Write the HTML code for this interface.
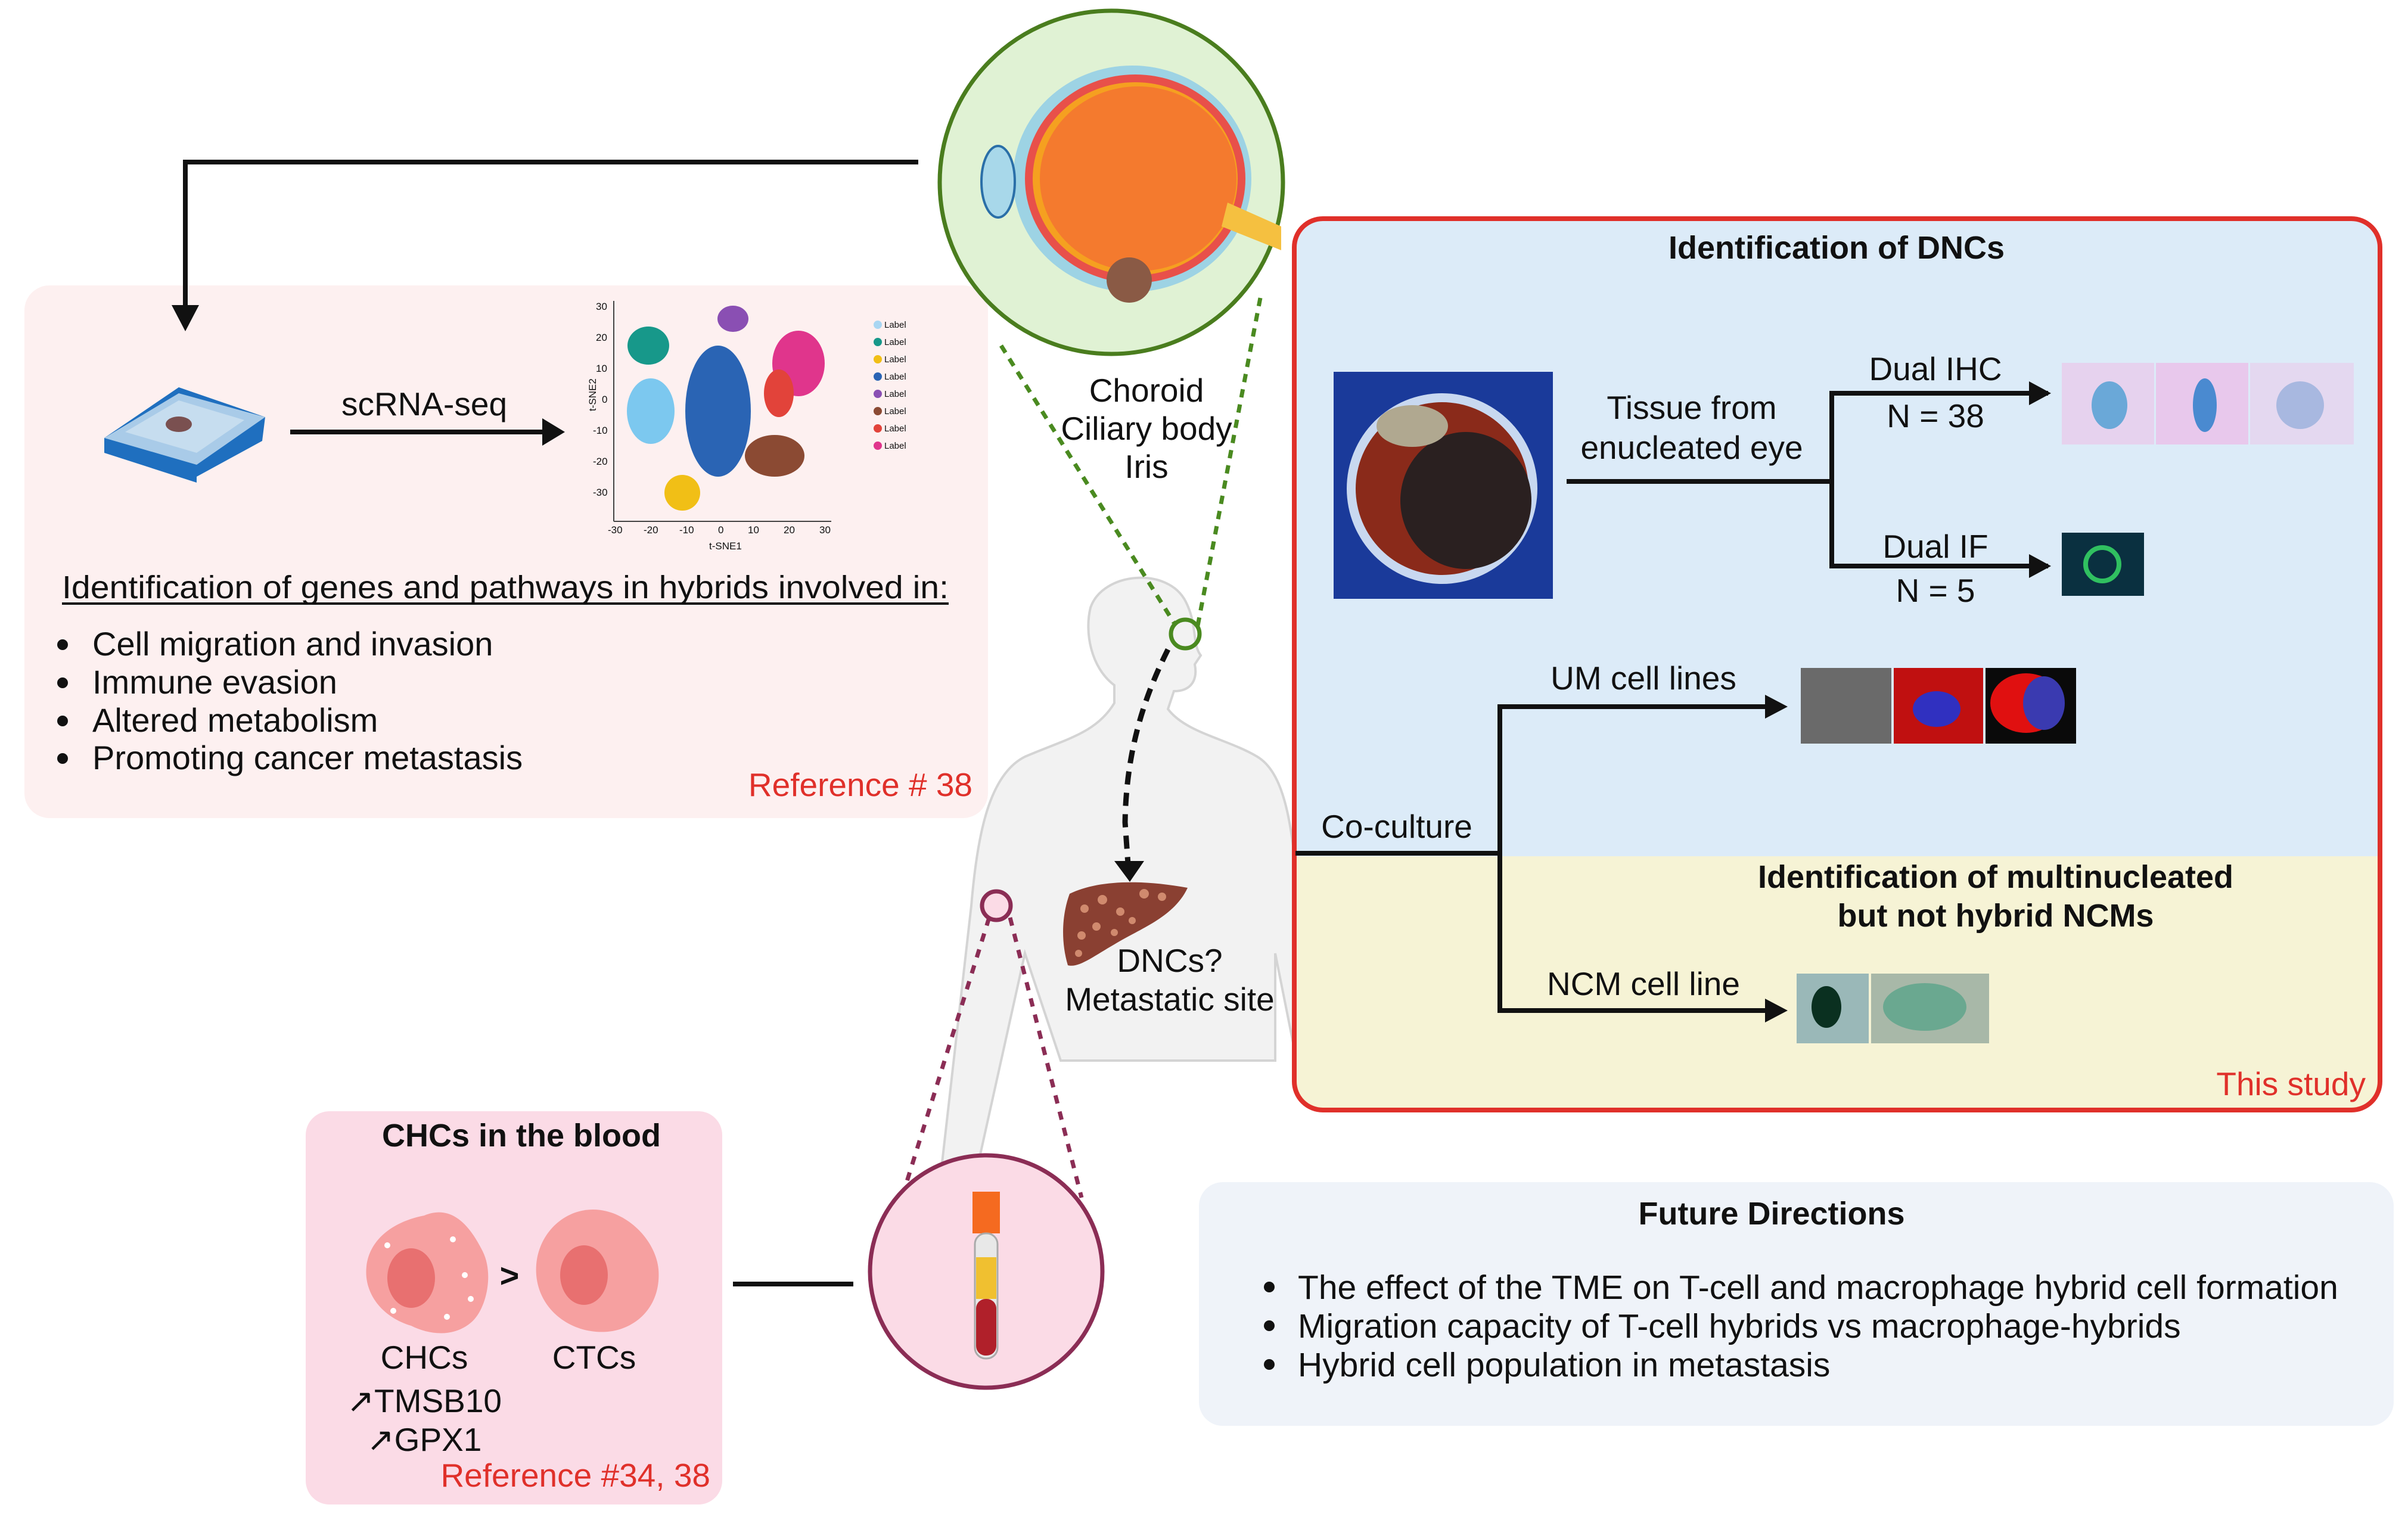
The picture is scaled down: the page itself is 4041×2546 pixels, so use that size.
<!DOCTYPE html>
<html><head><meta charset="utf-8"><style>
html,body{margin:0;padding:0;background:#fff}
svg{display:block}
text{font-family:"Liberation Sans",sans-serif;fill:#111}
</style></head><body>
<svg width="4041" height="2546" viewBox="0 0 4041 2546" xmlns="http://www.w3.org/2000/svg">

<!-- pink left box -->
<rect x="41" y="479" width="1617" height="894" rx="42" fill="#fdf0f0"/>
<!-- top connector -->
<polyline points="1541,272 311,272 311,520" fill="none" stroke="#111" stroke-width="8"/>
<path d="M288,512 L334,512 L311,556 z" fill="#111"/>

<!-- slide icon -->
<g>
<path d="M175,735 L300,650 L445,700 L440,740 L330,800 L330,810 L175,760 z" fill="#1f6fbf"/>
<path d="M175,735 L300,660 L445,700 L330,780 z" fill="#a9cbe8"/>
<path d="M210,725 L300,672 L410,705 L330,760 z" fill="#c6ddef"/>
<ellipse cx="300" cy="712" rx="22" ry="13" fill="#7a5050"/>
</g>
<text x="712" y="697" font-size="55" text-anchor="middle">scRNA-seq</text>
<line x1="487" y1="725" x2="920" y2="725" stroke="#111" stroke-width="8"/>
<path d="M910,702 L948,725 L910,748 z" fill="#111"/>

<!-- tSNE plot -->
<g font-size="17">
<line x1="1030" y1="505" x2="1030" y2="875" stroke="#444" stroke-width="2"/>
<line x1="1030" y1="875" x2="1395" y2="875" stroke="#444" stroke-width="2"/>
<text x="1000" y="520">30</text><text x="1000" y="572">20</text><text x="1000" y="624">10</text><text x="1010" y="676">0</text><text x="995" y="728">-10</text><text x="995" y="780">-20</text><text x="995" y="832">-30</text>
<text x="1020" y="895">-30</text><text x="1080" y="895">-20</text><text x="1140" y="895">-10</text><text x="1205" y="895">0</text><text x="1255" y="895">10</text><text x="1315" y="895">20</text><text x="1375" y="895">30</text>
<text x="1190" y="922">t-SNE1</text>
<text x="980" y="710" transform="rotate(-90 980 690)">t-SNE2</text>
<ellipse cx="1088" cy="580" rx="35" ry="32" fill="#17988a"/>
<ellipse cx="1092" cy="690" rx="40" ry="55" fill="#7cc8ef"/>
<ellipse cx="1205" cy="690" rx="55" ry="110" fill="#2a64b4"/>
<ellipse cx="1230" cy="535" rx="26" ry="22" fill="#8a4fb3"/>
<ellipse cx="1340" cy="610" rx="44" ry="55" fill="#e0358c"/>
<ellipse cx="1307" cy="660" rx="25" ry="40" fill="#e2433a"/>
<ellipse cx="1300" cy="765" rx="50" ry="35" fill="#8b4a33"/>
<ellipse cx="1145" cy="827" rx="30" ry="30" fill="#f1bf16"/>
<g font-size="15">
<circle cx="1473" cy="545" r="7" fill="#a9d6f2"/><text x="1484" y="550">Label</text>
<circle cx="1473" cy="574" r="7" fill="#17988a"/><text x="1484" y="579">Label</text>
<circle cx="1473" cy="603" r="7" fill="#f1bf16"/><text x="1484" y="608">Label</text>
<circle cx="1473" cy="632" r="7" fill="#2a64b4"/><text x="1484" y="637">Label</text>
<circle cx="1473" cy="661" r="7" fill="#8a4fb3"/><text x="1484" y="666">Label</text>
<circle cx="1473" cy="690" r="7" fill="#8b4a33"/><text x="1484" y="695">Label</text>
<circle cx="1473" cy="719" r="7" fill="#e2433a"/><text x="1484" y="724">Label</text>
<circle cx="1473" cy="748" r="7" fill="#e0358c"/><text x="1484" y="753">Label</text>
</g>
</g>

<text x="104" y="1004" font-size="54" textLength="1488" lengthAdjust="spacingAndGlyphs">Identification of genes and pathways in hybrids involved in:</text>
<line x1="104" y1="1013" x2="1592" y2="1013" stroke="#111" stroke-width="4"/>
<g font-size="56">
<circle cx="105" cy="1082" r="9" fill="#111"/><text x="155" y="1100">Cell migration and invasion</text>
<circle cx="105" cy="1146" r="9" fill="#111"/><text x="155" y="1164">Immune evasion</text>
<circle cx="105" cy="1210" r="9" fill="#111"/><text x="155" y="1228">Altered metabolism</text>
<circle cx="105" cy="1273" r="9" fill="#111"/><text x="155" y="1291">Promoting cancer metastasis</text>
</g>
<text x="1632" y="1336" font-size="55" text-anchor="end" style="fill:#e0302a">Reference # 38</text>

<!-- human figure -->
<g fill="#f2f2f2" stroke="#d4d4d4" stroke-width="4">
<path d="M1580,1960 L1630,1520 C1640,1400 1660,1300 1720,1270 C1790,1240 1840,1230 1870,1180 L1870,1150 C1830,1120 1820,1060 1830,1020 C1850,960 1960,950 1990,1010 C2010,1050 2000,1080 2015,1100 L2005,1115 C2010,1140 2000,1160 1970,1160 L1960,1190 C1990,1230 2060,1240 2110,1270 C2160,1300 2170,1400 2180,1520 L2215,1780 L2180,1800 L2140,1600 L2140,1780 L1780,1780 L1720,1600 L1680,1780 L1640,1960 z"/>
</g>
<!-- liver -->
<path d="M1795,1500 C1840,1478 1910,1475 1993,1490 C1970,1540 1910,1560 1870,1585 C1835,1605 1810,1625 1792,1620 C1780,1580 1782,1535 1795,1500 z" fill="#8a4032"/>
<g fill="#d08a6e"><circle cx="1820" cy="1525" r="7"/><circle cx="1850" cy="1510" r="8"/><circle cx="1880" cy="1530" r="7"/><circle cx="1920" cy="1500" r="8"/><circle cx="1950" cy="1505" r="7"/><circle cx="1815" cy="1570" r="7"/><circle cx="1840" cy="1555" r="7"/><circle cx="1900" cy="1545" r="6"/><circle cx="1810" cy="1600" r="6"/><circle cx="1870" cy="1565" r="6"/></g>
<!-- dashed black arrow -->
<path d="M1960,1090 C1920,1170 1890,1260 1888,1380 L1893,1450" fill="none" stroke="#111" stroke-width="9" stroke-dasharray="22,14"/>
<path d="M1870,1445 L1920,1445 L1896,1480 z" fill="#111"/>
<text x="1963" y="1631" font-size="55" text-anchor="middle">DNCs?</text>
<text x="1963" y="1696" font-size="55" text-anchor="middle">Metastatic site</text>

<!-- eye green dotted -->
<line x1="1680" y1="580" x2="1970" y2="1045" stroke="#4a8a20" stroke-width="7" stroke-dasharray="14,12"/>
<line x1="2115" y1="500" x2="2010" y2="1050" stroke="#4a8a20" stroke-width="7" stroke-dasharray="14,12"/>
<circle cx="1989" cy="1064" r="24" fill="none" stroke="#4a8a20" stroke-width="7"/>
<!-- eye circle -->
<circle cx="1865" cy="306" r="288" fill="#e0f2d4" stroke="#4a7d1e" stroke-width="7"/>
<ellipse cx="1900" cy="300" rx="200" ry="190" fill="#9dd3e4"/>
<ellipse cx="1905" cy="300" rx="185" ry="175" fill="#e8504a"/>
<ellipse cx="1905" cy="300" rx="172" ry="162" fill="#f5a020"/>
<ellipse cx="1910" cy="300" rx="165" ry="155" fill="#f47a2e"/>
<path d="M2060,340 L2150,380 L2150,420 L2050,380 z" fill="#f5c040"/>
<ellipse cx="1675" cy="305" rx="28" ry="60" fill="#a8d8ea" stroke="#2a6fa8" stroke-width="4"/>
<circle cx="1895" cy="470" r="38" fill="#8a5a45"/>
<text x="1924" y="674" font-size="55" text-anchor="middle">Choroid</text>
<text x="1924" y="738" font-size="55" text-anchor="middle">Ciliary body</text>
<text x="1924" y="802" font-size="55" text-anchor="middle">Iris</text>

<!-- red box -->
<path d="M2220,369 L3946,369 Q3992,369 3992,415 L3992,1437 L2174,1437 L2174,415 Q2174,369 2220,369 z" fill="#dcebf8"/>
<path d="M2174,1437 L3992,1437 L3992,1815 Q3992,1861 3946,1861 L2220,1861 Q2174,1861 2174,1815 z" fill="#f6f3d5"/>
<rect x="2172" y="367" width="1822" height="1496" rx="48" fill="none" stroke="#e0302a" stroke-width="8"/>
<text x="3082" y="434" font-size="54" font-weight="bold" text-anchor="middle">Identification of DNCs</text>
<!-- eye photo -->
<rect x="2238" y="624" width="368" height="381" fill="#1a3a9a"/>
<circle cx="2420" cy="820" r="160" fill="#c8d8f0"/>
<circle cx="2420" cy="820" r="145" fill="#8a2a1a"/>
<ellipse cx="2460" cy="840" rx="110" ry="115" fill="#2a2020"/>
<ellipse cx="2370" cy="715" rx="60" ry="35" fill="#b0a890"/>
<text x="2839" y="703" font-size="55" text-anchor="middle">Tissue from</text>
<text x="2839" y="770" font-size="55" text-anchor="middle">enucleated eye</text>
<polyline points="2629,808 3074,808" stroke="#111" stroke-width="8" fill="none"/>
<polyline points="3437,660 3074,660 3074,950 3437,950" stroke="#111" stroke-width="8" fill="none"/>
<path d="M3405,640 L3442,660 L3405,680 z" fill="#111"/>
<path d="M3405,930 L3442,950 L3405,970 z" fill="#111"/>
<text x="3248" y="638" font-size="55" text-anchor="middle">Dual IHC</text>
<text x="3248" y="717" font-size="55" text-anchor="middle">N = 38</text>
<text x="3248" y="936" font-size="55" text-anchor="middle">Dual IF</text>
<text x="3248" y="1010" font-size="55" text-anchor="middle">N = 5</text>
<rect x="3460" y="609" width="155" height="137" fill="#e6d2ee"/>
<rect x="3618" y="609" width="155" height="137" fill="#e8c8ec"/>
<rect x="3776" y="609" width="174" height="137" fill="#e4d8f0"/>
<ellipse cx="3540" cy="680" rx="30" ry="40" fill="#6aa8d8"/>
<ellipse cx="3700" cy="680" rx="20" ry="45" fill="#4a8ad0"/>
<ellipse cx="3860" cy="680" rx="40" ry="40" fill="#a8b8e0"/>
<rect x="3460" y="894" width="138" height="106" fill="#0a3040"/>
<circle cx="3528" cy="947" r="28" fill="none" stroke="#30c060" stroke-width="8"/>
<!-- coculture -->
<text x="2344" y="1406" font-size="55" text-anchor="middle">Co-culture</text>
<polyline points="2174,1432 2517,1432" stroke="#111" stroke-width="8" fill="none"/>
<polyline points="2980,1186 2517,1186 2517,1696 2980,1696" stroke="#111" stroke-width="8" fill="none"/>
<path d="M2962,1166 L3000,1186 L2962,1206 z" fill="#111"/>
<path d="M2962,1676 L3000,1696 L2962,1716 z" fill="#111"/>
<text x="2758" y="1157" font-size="55" text-anchor="middle">UM cell lines</text>
<text x="2758" y="1670" font-size="55" text-anchor="middle">NCM cell line</text>
<rect x="3022" y="1121" width="152" height="127" fill="#6a6a6a"/>
<rect x="3178" y="1121" width="150" height="127" fill="#c01010"/>
<ellipse cx="3250" cy="1190" rx="40" ry="30" fill="#3030c0"/>
<rect x="3332" y="1121" width="152" height="127" fill="#0a0a0a"/>
<ellipse cx="3400" cy="1180" rx="60" ry="50" fill="#e01010"/>
<ellipse cx="3430" cy="1180" rx="35" ry="45" fill="#3a3ab0"/>
<text x="3349" y="1490" font-size="54" font-weight="bold" text-anchor="middle">Identification of multinucleated</text>
<text x="3349" y="1555" font-size="54" font-weight="bold" text-anchor="middle">but not hybrid NCMs</text>
<rect x="3015" y="1634" width="121" height="117" fill="#9ab8b8"/>
<ellipse cx="3065" cy="1690" rx="25" ry="35" fill="#0a3020"/>
<rect x="3140" y="1634" width="198" height="117" fill="#a8b8a8"/>
<ellipse cx="3230" cy="1690" rx="70" ry="40" fill="#6aa890"/>
<text x="3970" y="1838" font-size="55" text-anchor="end" style="fill:#e0302a">This study</text>

<!-- blood dotted -->
<line x1="1660" y1="1540" x2="1515" y2="2005" stroke="#8b2d55" stroke-width="7" stroke-dasharray="14,14"/>
<line x1="1695" y1="1540" x2="1815" y2="2010" stroke="#8b2d55" stroke-width="7" stroke-dasharray="14,14"/>
<circle cx="1672" cy="1520" r="24" fill="#fbdbe6" stroke="#8b2d55" stroke-width="7"/>
<circle cx="1655" cy="2134" r="195" fill="#fbdbe6" stroke="#8b2d55" stroke-width="7"/>
<rect x="1632" y="2000" width="46" height="70" fill="#f56a20"/>
<rect x="1636" y="2070" width="38" height="210" rx="18" fill="#e8e8e8" stroke="#aaa" stroke-width="3"/>
<rect x="1638" y="2110" width="34" height="70" fill="#f0c030"/>
<rect x="1638" y="2180" width="34" height="95" rx="16" fill="#b0202a"/>

<!-- CHCs box -->
<rect x="513" y="1865" width="699" height="660" rx="40" fill="#fbdbe6"/>
<text x="875" y="1924" font-size="54" font-weight="bold" text-anchor="middle">CHCs in the blood</text>
<path d="M712,2040 C760,2020 790,2060 810,2100 C830,2140 815,2200 790,2220 C760,2245 720,2240 690,2225 C640,2210 610,2170 615,2125 C620,2080 660,2050 712,2040 z" fill="#f6a0a0"/>
<ellipse cx="690" cy="2145" rx="40" ry="50" fill="#e87070"/>
<g fill="#fff"><circle cx="650" cy="2090" r="5"/><circle cx="760" cy="2080" r="5"/><circle cx="780" cy="2140" r="5"/><circle cx="660" cy="2200" r="5"/><circle cx="750" cy="2210" r="5"/><circle cx="790" cy="2180" r="5"/></g>
<text x="855" y="2160" font-size="56" font-weight="bold" text-anchor="middle">&gt;</text>
<path d="M995,2030 C1050,2030 1100,2080 1105,2130 C1110,2190 1070,2230 1020,2235 C960,2240 905,2200 900,2140 C895,2080 940,2030 995,2030 z" fill="#f6a0a0"/>
<ellipse cx="980" cy="2140" rx="40" ry="50" fill="#e87070"/>
<text x="712" y="2297" font-size="55" text-anchor="middle">CHCs</text>
<text x="997" y="2297" font-size="55" text-anchor="middle">CTCs</text>
<text x="712" y="2370" font-size="55" text-anchor="middle">↗TMSB10</text>
<text x="712" y="2435" font-size="55" text-anchor="middle">↗GPX1</text>
<text x="1192" y="2495" font-size="55" text-anchor="end" style="fill:#e0302a">Reference #34, 38</text>
<line x1="1230" y1="2155" x2="1432" y2="2155" stroke="#111" stroke-width="8"/>

<!-- Future -->
<rect x="2012" y="1984" width="2005" height="409" rx="40" fill="#eff3f9"/>
<text x="2973" y="2055" font-size="54" font-weight="bold" text-anchor="middle">Future Directions</text>
<g font-size="57">
<circle cx="2130" cy="2160" r="9" fill="#111"/><text x="2178" y="2180">The effect of the TME on T-cell and macrophage hybrid cell formation</text>
<circle cx="2130" cy="2225" r="9" fill="#111"/><text x="2178" y="2245">Migration capacity of T-cell hybrids vs macrophage-hybrids</text>
<circle cx="2130" cy="2290" r="9" fill="#111"/><text x="2178" y="2310">Hybrid cell population in metastasis</text>
</g>
</svg>
</body></html>
